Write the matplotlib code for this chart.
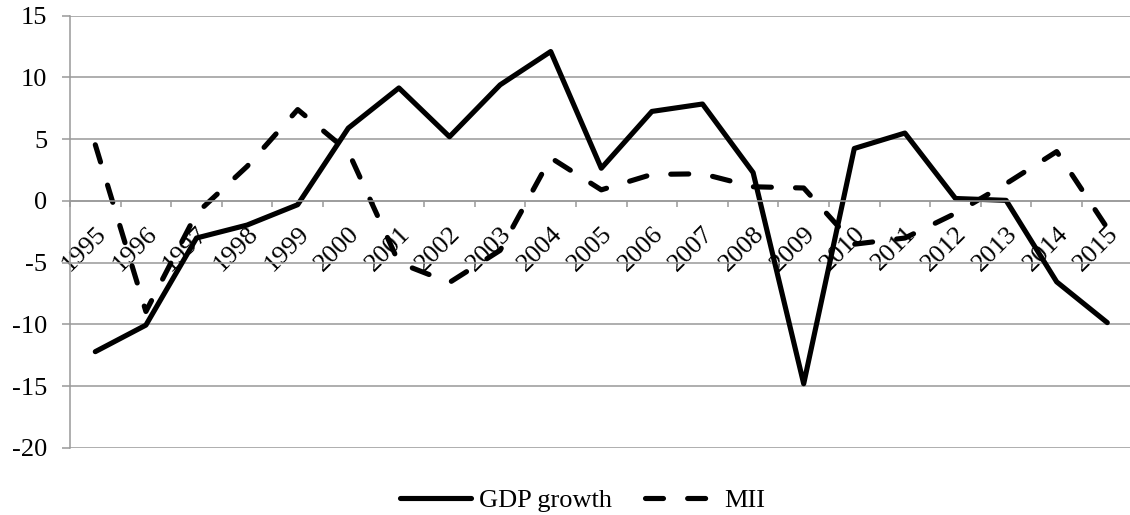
import matplotlib
matplotlib.use('Agg')
import matplotlib.pyplot as plt
import numpy as np

# ---- data ----
years = [str(y) for y in range(1995, 2016)]
gdp_growth = [-12.2, -10.05, -3.0, -1.95, -0.3, 5.9, 9.15, 5.2, 9.4, 12.1,
              2.65, 7.25, 7.85, 2.3, -14.8, 4.25, 5.5, 0.2, 0.05, -6.55, -9.85]
mii = [4.55, -8.95, -1.0, 2.8, 7.4, 4.0, -5.0, -6.6, -4.0, 3.5,
       0.9, 2.15, 2.2, 1.15, 1.05, -3.5, -3.0, -1.0, 1.4, 4.0, -2.2]
yticks = [-20, -15, -10, -5, 0, 5, 10, 15]

plt.rcParams['font.family'] = ['Liberation Serif', 'DejaVu Serif']

W, H = 1130, 515
fig = plt.figure(figsize=(W / 100, H / 100), dpi=100)
ax = fig.add_axes([70 / W, (H - 448) / H, 1062.6 / W, (448 - 15.7) / H])

grid_col = '#999999'
x = np.arange(len(years))
ax.plot(x, gdp_growth, color='black', lw=3.7, solid_joinstyle='round',
        solid_capstyle='round', label='GDP growth')
ax.plot(x, mii, color='black', lw=3.7, dashes=(3.5, 4.7),
        dash_capstyle='round', dash_joinstyle='round', label='MII')

ax.set_xlim(-0.5, len(years) - 0.5)
ax.set_ylim(min(yticks), max(yticks))
ax.set_yticks(yticks)
ax.set_yticklabels([str(v) for v in yticks])
ax.grid(axis='y', color=grid_col, lw=1.1)
ax.set_axisbelow(True)

for s in ['top', 'right']:
    ax.spines[s].set_visible(False)
ax.spines['left'].set_color(grid_col)
ax.spines['left'].set_linewidth(1.1)
ax.spines['bottom'].set_position(('data', 0))
ax.spines['bottom'].set_color(grid_col)
ax.spines['bottom'].set_linewidth(1.1)

ax.set_xticks(x)
ax.set_xticklabels(years, rotation=45, ha='right', va='top', rotation_mode='anchor')
ax.set_xticks(np.arange(len(years) + 1) - 0.5, minor=True)
ax.tick_params(axis='x', which='major', length=0, pad=15.5, labelsize=19)
ax.tick_params(axis='x', which='minor', length=4.5, color=grid_col, width=1.1)
ax.tick_params(axis='y', length=5.8, color=grid_col, width=1.1, pad=10.5, labelsize=19)

fig.legend(loc='center', bbox_to_anchor=(582.5 / W, 1 - 500 / H), ncol=2,
           frameon=False, fontsize=19, handlelength=2.7, handletextpad=0.3,
           columnspacing=1.25, borderaxespad=0, borderpad=0)

fig.savefig('out.png', dpi=100)
